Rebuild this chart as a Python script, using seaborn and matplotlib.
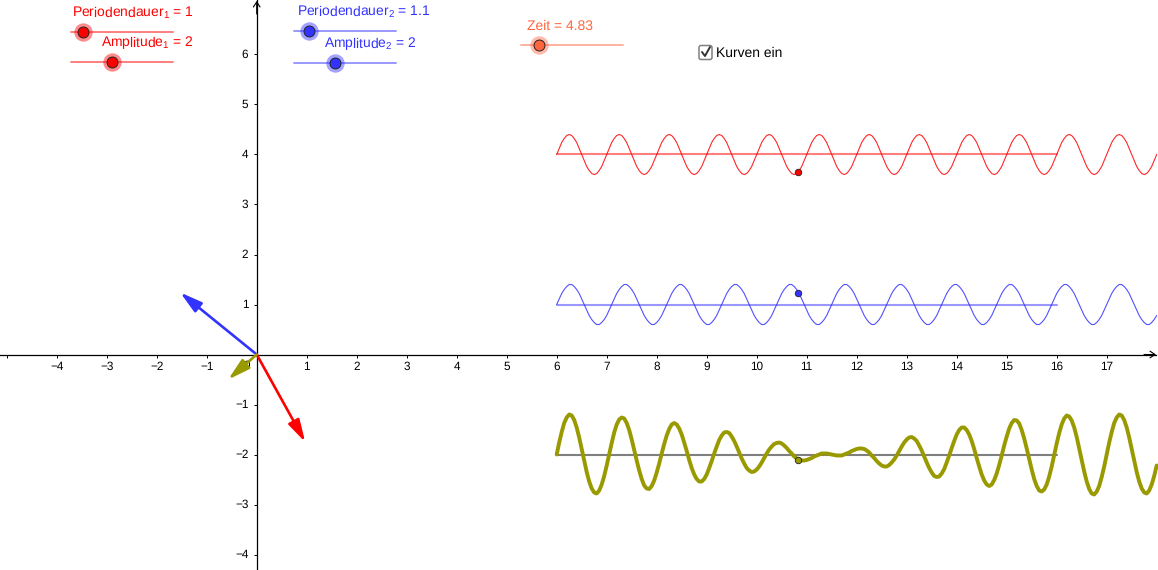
import numpy as np
import matplotlib
matplotlib.use("Agg")
import matplotlib.pyplot as plt
import seaborn as sns
from matplotlib.patches import FancyBboxPatch
from matplotlib.transforms import ScaledTranslation

# curve values, one sample every 0.05 from x = 6
red_y = [
    4.00, 4.12, 4.24, 4.32, 4.38, 4.40, 4.38, 4.32, 4.24, 4.12, 4.00, 3.88, 3.76, 3.68, 3.62, 3.60, 3.62, 3.68, 3.76, 3.88,
    4.00, 4.12, 4.24, 4.32, 4.38, 4.40, 4.38, 4.32, 4.24, 4.12, 4.00, 3.88, 3.76, 3.68, 3.62, 3.60, 3.62, 3.68, 3.76, 3.88,
    4.00, 4.12, 4.24, 4.32, 4.38, 4.40, 4.38, 4.32, 4.24, 4.12, 4.00, 3.88, 3.76, 3.68, 3.62, 3.60, 3.62, 3.68, 3.76, 3.88,
    4.00, 4.12, 4.24, 4.32, 4.38, 4.40, 4.38, 4.32, 4.24, 4.12, 4.00, 3.88, 3.76, 3.68, 3.62, 3.60, 3.62, 3.68, 3.76, 3.88,
    4.00, 4.12, 4.24, 4.32, 4.38, 4.40, 4.38, 4.32, 4.24, 4.12, 4.00, 3.88, 3.76, 3.68, 3.62, 3.60, 3.62, 3.68, 3.76, 3.88,
    4.00, 4.12, 4.24, 4.32, 4.38, 4.40, 4.38, 4.32, 4.24, 4.12, 4.00, 3.88, 3.76, 3.68, 3.62, 3.60, 3.62, 3.68, 3.76, 3.88,
    4.00, 4.12, 4.24, 4.32, 4.38, 4.40, 4.38, 4.32, 4.24, 4.12, 4.00, 3.88, 3.76, 3.68, 3.62, 3.60, 3.62, 3.68, 3.76, 3.88,
    4.00, 4.12, 4.24, 4.32, 4.38, 4.40, 4.38, 4.32, 4.24, 4.12, 4.00, 3.88, 3.76, 3.68, 3.62, 3.60, 3.62, 3.68, 3.76, 3.88,
    4.00, 4.12, 4.24, 4.32, 4.38, 4.40, 4.38, 4.32, 4.24, 4.12, 4.00, 3.88, 3.76, 3.68, 3.62, 3.60, 3.62, 3.68, 3.76, 3.88,
    4.00, 4.12, 4.24, 4.32, 4.38, 4.40, 4.38, 4.32, 4.24, 4.12, 4.00, 3.88, 3.76, 3.68, 3.62, 3.60, 3.62, 3.68, 3.76, 3.88,
    4.00, 4.12, 4.24, 4.32, 4.38, 4.40, 4.38, 4.32, 4.24, 4.12, 4.00, 3.88, 3.76, 3.68, 3.62, 3.60, 3.62, 3.68, 3.76, 3.88,
    4.00, 4.12, 4.24, 4.32, 4.38, 4.40, 4.38, 4.32, 4.24, 4.12, 4.00, 3.88, 3.76, 3.68, 3.62, 3.60, 3.62, 3.68, 3.76, 3.88,
    4.00,
]
blue_y = [
    1.00, 1.11, 1.22, 1.30, 1.36, 1.40, 1.40, 1.36, 1.30, 1.22, 1.11, 1.00, 0.89, 0.78, 0.70, 0.64, 0.60, 0.60, 0.64, 0.70, 0.78, 0.89,
    1.00, 1.11, 1.22, 1.30, 1.36, 1.40, 1.40, 1.36, 1.30, 1.22, 1.11, 1.00, 0.89, 0.78, 0.70, 0.64, 0.60, 0.60, 0.64, 0.70, 0.78, 0.89,
    1.00, 1.11, 1.22, 1.30, 1.36, 1.40, 1.40, 1.36, 1.30, 1.22, 1.11, 1.00, 0.89, 0.78, 0.70, 0.64, 0.60, 0.60, 0.64, 0.70, 0.78, 0.89,
    1.00, 1.11, 1.22, 1.30, 1.36, 1.40, 1.40, 1.36, 1.30, 1.22, 1.11, 1.00, 0.89, 0.78, 0.70, 0.64, 0.60, 0.60, 0.64, 0.70, 0.78, 0.89,
    1.00, 1.11, 1.22, 1.30, 1.36, 1.40, 1.40, 1.36, 1.30, 1.22, 1.11, 1.00, 0.89, 0.78, 0.70, 0.64, 0.60, 0.60, 0.64, 0.70, 0.78, 0.89,
    1.00, 1.11, 1.22, 1.30, 1.36, 1.40, 1.40, 1.36, 1.30, 1.22, 1.11, 1.00, 0.89, 0.78, 0.70, 0.64, 0.60, 0.60, 0.64, 0.70, 0.78, 0.89,
    1.00, 1.11, 1.22, 1.30, 1.36, 1.40, 1.40, 1.36, 1.30, 1.22, 1.11, 1.00, 0.89, 0.78, 0.70, 0.64, 0.60, 0.60, 0.64, 0.70, 0.78, 0.89,
    1.00, 1.11, 1.22, 1.30, 1.36, 1.40, 1.40, 1.36, 1.30, 1.22, 1.11, 1.00, 0.89, 0.78, 0.70, 0.64, 0.60, 0.60, 0.64, 0.70, 0.78, 0.89,
    1.00, 1.11, 1.22, 1.30, 1.36, 1.40, 1.40, 1.36, 1.30, 1.22, 1.11, 1.00, 0.89, 0.78, 0.70, 0.64, 0.60, 0.60, 0.64, 0.70, 0.78, 0.89,
    1.00, 1.11, 1.22, 1.30, 1.36, 1.40, 1.40, 1.36, 1.30, 1.22, 1.11, 1.00, 0.89, 0.78, 0.70, 0.64, 0.60, 0.60, 0.64, 0.70, 0.78, 0.89,
    1.00, 1.11, 1.22, 1.30, 1.36, 1.40, 1.40, 1.36, 1.30, 1.22, 1.11, 1.00, 0.89, 0.78, 0.70, 0.64, 0.60, 0.60, 0.64, 0.70, 0.78,
]
olive_y = [
    -2.00, -1.76, -1.55, -1.37, -1.26, -1.20, -1.22, -1.31, -1.46, -1.66, -1.89, -2.12, -2.35, -2.54, -2.68, -2.76, -2.78, -2.72, -2.60, -2.43,
    -2.22, -1.99, -1.77, -1.56, -1.40, -1.30, -1.26, -1.28, -1.37, -1.51, -1.70, -1.91, -2.12, -2.32, -2.49, -2.62, -2.68, -2.69, -2.63, -2.52,
    -2.36, -2.18, -1.98, -1.79, -1.62, -1.49, -1.40, -1.37, -1.40, -1.48, -1.60, -1.76, -1.93, -2.11, -2.27, -2.40, -2.49, -2.54, -2.54, -2.49,
    -2.40, -2.27, -2.13, -1.98, -1.84, -1.71, -1.62, -1.56, -1.55, -1.57, -1.64, -1.73, -1.84, -1.96, -2.08, -2.18, -2.27, -2.32, -2.35, -2.34,
    -2.30, -2.24, -2.16, -2.07, -1.98, -1.90, -1.84, -1.79, -1.77, -1.76, -1.78, -1.82, -1.87, -1.93, -1.98, -2.04, -2.08, -2.11, -2.12, -2.12,
    -2.11, -2.09, -2.07, -2.04, -2.02, -2.00, -1.98, -1.98, -1.98, -1.99, -2.00, -2.01, -2.02, -2.02, -2.02, -2.00, -1.98, -1.96, -1.93, -1.91,
    -1.89, -1.88, -1.88, -1.89, -1.92, -1.96, -2.02, -2.07, -2.13, -2.18, -2.22, -2.24, -2.24, -2.21, -2.16, -2.10, -2.02, -1.93, -1.84, -1.76,
    -1.70, -1.66, -1.65, -1.68, -1.73, -1.82, -1.92, -2.04, -2.16, -2.27, -2.36, -2.43, -2.45, -2.44, -2.38, -2.29, -2.16, -2.02, -1.87, -1.73,
    -1.60, -1.51, -1.46, -1.46, -1.51, -1.60, -1.73, -1.89, -2.07, -2.24, -2.40, -2.52, -2.60, -2.63, -2.60, -2.51, -2.38, -2.21, -2.02, -1.82,
    -1.64, -1.48, -1.37, -1.31, -1.32, -1.38, -1.51, -1.68, -1.88, -2.09, -2.30, -2.49, -2.63, -2.72, -2.74, -2.70, -2.60, -2.44, -2.24, -2.01,
    -1.78, -1.57, -1.40, -1.28, -1.22, -1.24, -1.32, -1.46, -1.65, -1.88, -2.11, -2.34, -2.54, -2.69, -2.78, -2.80, -2.74, -2.63, -2.45, -2.24,
    -2.00, -1.76, -1.55, -1.37, -1.26, -1.20, -1.22, -1.31, -1.46, -1.66, -1.89, -2.12, -2.35, -2.54, -2.68, -2.76, -2.78, -2.72, -2.60, -2.43,
    -2.22,
]
baseline_x = [6, 16]
baseline_red = [4, 4]
baseline_blue = [1, 1]
baseline_olive = [-2, -2]
time_x = [10.83]
time_red = [3.64]
time_blue = [1.24]
time_olive = [-2.10]
arrow_red = (0.97, -1.75)
arrow_blue = (-1.53, 1.24)
arrow_olive = (-0.57, -0.50)
xticks = list(range(-5, 18))
yticks = [-4, -3, -2, -1, 1, 2, 3, 4, 5, 6]

RED = "#ff0000"
BLUE = "#3333ff"
OLIVE = "#999900"
ORANGE = "#ff6640"


# screen pixels to axis units, the view is 50 px per unit
def X(px):
    return (px - 256.7) / 50


def Y(py):
    return (354.5 - py) / 50


sns.set_theme(style="white")
plt.rcParams["font.family"] = ["Liberation Sans", "DejaVu Sans"]
plt.rcParams["mathtext.default"] = "regular"
plt.rcParams["text.hinting"] = "no_hinting"

fig = plt.figure(figsize=(11.58, 5.70), dpi=100)
ax = fig.add_axes([0, 0, 1, 1])
ax.set_xlim(X(0), X(1158))
ax.set_ylim(Y(570), Y(0))

# axes through the origin
for s in ["top", "right"]:
    ax.spines[s].set_visible(False)
for s in ["left", "bottom"]:
    ax.spines[s].set_position("zero")
    ax.spines[s].set_color("black")
    ax.spines[s].set_linewidth(0.9)
ax.spines["bottom"].set_bounds(X(0), X(1156))
ax.set_xticks(xticks)
ax.set_xticklabels(["" if t == -5 or t == 0 else str(t).replace("-", "\u2212") for t in xticks])
ax.set_yticks(yticks)
ax.set_yticklabels([str(t).replace("-", "\u2212") for t in yticks])
ax.tick_params(axis="x", direction="out", length=2.5, width=0.7, pad=2.5, labelsize=8.5, colors="black", bottom=True)
ax.tick_params(axis="y", direction="out", length=2.5, width=0.7, pad=3.5, labelsize=8.5, colors="black", left=True)
# y labels sit one pixel above their ticks
up = ScaledTranslation(0, 1 / 100, fig.dpi_scale_trans)
for lab in ax.get_yticklabels():
    lab.set_transform(lab.get_transform() + up)
ax.text(X(247), Y(369), "0", fontsize=8.5, ha="center", va="baseline", color="black")
ax.annotate("", xy=(X(1156), 0), xytext=(X(1144), 0),
            arrowprops=dict(arrowstyle="->,head_length=0.3,head_width=0.2", color="black", lw=0.8, shrinkA=0, shrinkB=0))
ax.annotate("", xy=(0, Y(1)), xytext=(0, Y(14)),
            arrowprops=dict(arrowstyle="->,head_length=0.3,head_width=0.2", color="black", lw=0.8, shrinkA=0, shrinkB=0))

# baselines under the waves
sns.lineplot(x=baseline_x, y=baseline_red, ax=ax, color=RED, alpha=0.5, lw=1.5, errorbar=None)
sns.lineplot(x=baseline_x, y=baseline_blue, ax=ax, color=BLUE, alpha=0.5, lw=1.5, errorbar=None)
sns.lineplot(x=baseline_x, y=baseline_olive, ax=ax, color="#7f7f7f", lw=1.5, errorbar=None)

# waves
x_fine = np.arange(len(red_y)) * 0.05 + 6
sns.lineplot(x=x_fine, y=red_y, ax=ax, color=RED, alpha=0.85, lw=0.8, errorbar=None)
sns.lineplot(x=x_fine[:len(blue_y)], y=blue_y, ax=ax, color=BLUE, alpha=0.85, lw=0.8, errorbar=None)
sns.lineplot(x=x_fine, y=olive_y, ax=ax, color=OLIVE, lw=2.8, errorbar=None, solid_joinstyle="round")

# moving points
sns.scatterplot(x=time_x, y=time_red, ax=ax, color=RED, s=22, edgecolor="#222222", linewidth=0.6, zorder=6)
sns.scatterplot(x=time_x, y=time_blue, ax=ax, color=BLUE, s=22, edgecolor="#222222", linewidth=0.6, zorder=6)
sns.scatterplot(x=time_x, y=time_olive, ax=ax, color=OLIVE, s=22, edgecolor="#222222", linewidth=0.6, zorder=6)

# vectors from the origin
for tip, col in [(arrow_blue, BLUE), (arrow_red, RED), (arrow_olive, OLIVE)]:
    ax.annotate("", xy=tip, xytext=(0, 0), zorder=5,
                arrowprops=dict(arrowstyle="-|>,head_length=0.95,head_width=0.26", color=col, lw=1.9,
                                mutation_scale=14, shrinkA=0, shrinkB=0))


# sliders, given as line ends, height and knob position in pixels
def slider(x0, x1, y, knob, col, label, lx, ly):
    ax.plot([X(x0), X(x1)], [Y(y), Y(y)], color=col, alpha=0.5, lw=1.4, zorder=3)
    sns.scatterplot(x=[X(knob)], y=[Y(y)], ax=ax, color=col, s=175, alpha=0.45, linewidth=0, zorder=4)
    sns.scatterplot(x=[X(knob)], y=[Y(y)], ax=ax, color=col, s=62, edgecolor="#222222", linewidth=0.7, zorder=5)
    ax.text(X(lx), Y(ly), label, color=col, fontsize=10, ha="left", va="baseline", zorder=6)


slider(71, 173, 32, 83.3, RED, "Periodendauer$_1$ = 1", 72, 17)
slider(71, 173, 62, 112.3, RED, "Amplitude$_1$ = 2", 101, 47)
slider(294, 396, 31, 308.7, BLUE, "Periodendauer$_2$ = 1.1", 297, 16)
slider(294, 396, 63, 335.3, BLUE, "Amplitude$_2$ = 2", 324, 48)
slider(521, 623, 45, 538.7, ORANGE, "Zeit = 4.83", 527, 30)

# checkbox
box = FancyBboxPatch((X(699), Y(59.5)), 13 / 50, 14 / 50, boxstyle="round,pad=0,rounding_size=0.04",
                     fc="white", ec="#808080", lw=1.1, zorder=5)
ax.add_patch(box)
ax.plot([X(702), X(705), X(710)], [Y(52), Y(56), Y(47)], color="#333333", lw=1.4, zorder=6)
ax.text(X(716.5), Y(56.5), "Kurven ein", color="black", fontsize=10, ha="left", va="baseline", zorder=6)

ax.set_xlabel("")
ax.set_ylabel("")
fig.savefig("out.png", dpi=100)
